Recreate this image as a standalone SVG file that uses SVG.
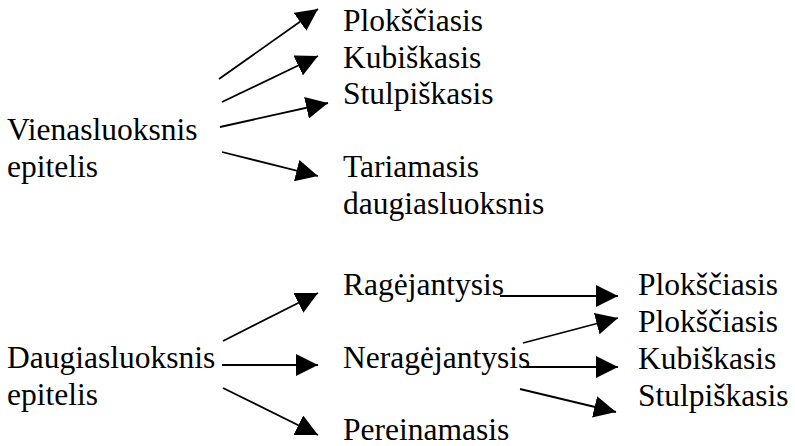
<svg xmlns="http://www.w3.org/2000/svg" width="795" height="446" viewBox="0 0 795 446">
<style>
.t{font-family:"Liberation Serif",Tinos,"Times New Roman",Times,serif;font-size:31.5px;fill:#000}
.c line{stroke:#000;stroke-width:1.8}
</style>
<defs>
<marker id="ah" markerUnits="userSpaceOnUse" markerWidth="24" markerHeight="22" refX="22" refY="11" orient="auto" viewBox="0 0 24 22">
<path d="M0,0 L22,11 L0,22 z" fill="#000"/>
</marker>
</defs>
<rect width="795" height="446" fill="#fff"/>
<g class="t" font-family="Liberation Serif, serif" font-size="31.5">
<g id="n-vienasluoksnis"><text x="7" y="140">Vienasluoksnis</text><text x="7" y="177">epitelis</text></g>
<g id="n-plok1"><text x="343" y="31">Plokščiasis</text></g>
<g id="n-kub1"><text x="343" y="68">Kubiškasis</text></g>
<g id="n-stul1"><text x="343" y="104">Stulpiškasis</text></g>
<g id="n-tariamasis"><text x="343" y="177">Tariamasis</text><text x="343" y="214">daugiasluoksnis</text></g>
<g id="n-daugiasluoksnis"><text x="7" y="368">Daugiasluoksnis</text><text x="7" y="405">epitelis</text></g>
<g id="n-ragejantysis"><text x="343" y="295">Ragėjantysis</text></g>
<g id="n-neragejantysis"><text x="343" y="368">Neragėjantysis</text></g>
<g id="n-pereinamasis"><text x="343" y="440">Pereinamasis</text></g>
<g id="n-plok2"><text x="638" y="295">Plokščiasis</text></g>
<g id="n-plok3"><text x="638" y="332">Plokščiasis</text></g>
<g id="n-kub2"><text x="638" y="369">Kubiškasis</text></g>
<g id="n-stul2"><text x="638" y="406">Stulpiškasis</text></g>
</g>
<g id="connectors" class="c" marker-end="url(#ah)">
<line x1="219" y1="79" x2="318" y2="9" marker-end="url(#ah)"/>
<line x1="222" y1="102" x2="318" y2="56" marker-end="url(#ah)"/>
<line x1="220" y1="127" x2="328" y2="103" marker-end="url(#ah)"/>
<line x1="222" y1="152" x2="318" y2="176" marker-end="url(#ah)"/>
<line x1="223" y1="341" x2="318" y2="293" marker-end="url(#ah)"/>
<line x1="222" y1="365" x2="318" y2="365" marker-end="url(#ah)"/>
<line x1="223" y1="388" x2="318" y2="435" marker-end="url(#ah)"/>
<line x1="500" y1="296" x2="618" y2="296" marker-end="url(#ah)"/>
<line x1="523" y1="343" x2="618" y2="318" marker-end="url(#ah)"/>
<line x1="523" y1="367" x2="618" y2="367" marker-end="url(#ah)"/>
<line x1="520" y1="389" x2="616" y2="412" marker-end="url(#ah)"/>
</g>
</svg>
